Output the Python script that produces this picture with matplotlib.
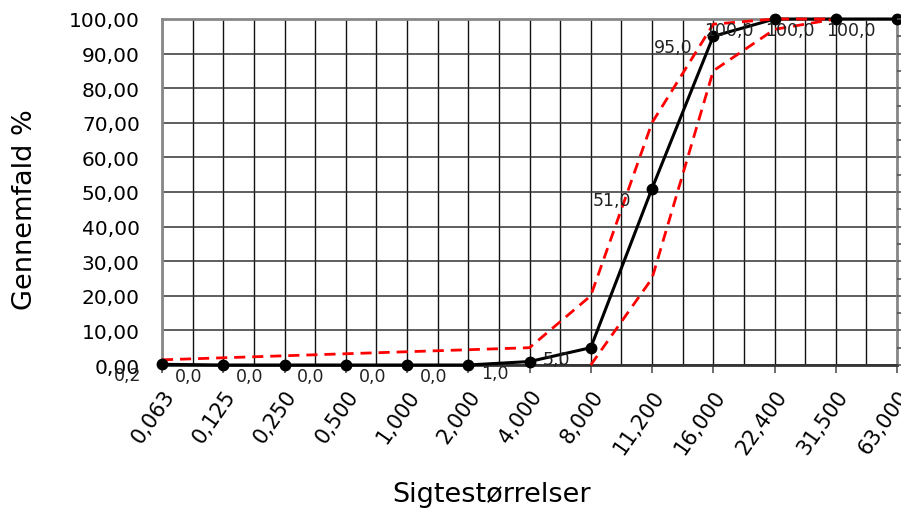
import matplotlib
matplotlib.use("Agg")
import matplotlib.pyplot as plt
import numpy as np

# ---- data ----
categories = ["0,063", "0,125", "0,250", "0,500", "1,000", "2,000", "4,000",
              "8,000", "11,200", "16,000", "22,400", "31,500", "63,000"]
passing = [0.2, 0.0, 0.0, 0.0, 0.0, 0.0, 1.0, 5.0, 51.0, 95.0, 100.0, 100.0, 100.0]
upper_limit = [1.5, None, None, None, None, None, 5.0, 20.0, 70.0, 98.5, 100.0, 100.0, None]
lower_limit = [None, None, None, None, None, None, None, 0.0, 25.0, 85.0, 97.0, 100.0, None]
y_ticks = [0, 10, 20, 30, 40, 50, 60, 70, 80, 90, 100]

plt.rcParams['font.family'] = ['DejaVu Sans']

fig = plt.figure(figsize=(9.01, 5.10), dpi=100)
ax = fig.add_axes([162/901, 1-366/510, (897-162)/901, (366-20)/510])

x = np.arange(len(categories))

# grid
for xv in np.arange(0, len(categories) - 1 + 0.01, 0.5):
    ax.axvline(xv, color='#111111', lw=1.0, zorder=1)
for yv in y_ticks:
    ax.axhline(yv, color='#333333', lw=1.1, zorder=1)

def valid(series):
    xs = [i for i, v in enumerate(series) if v is not None]
    ys = [v for v in series if v is not None]
    return xs, ys

ux, uy = valid(upper_limit)
lx, ly = valid(lower_limit)

ax.plot(x, passing, color='black', lw=2.2, zorder=3, clip_on=False)
ax.plot(ux, uy, color='#ff0000', lw=2.0, ls=(0, (4, 2.5)), zorder=4, clip_on=False)
ax.plot(lx, ly, color='#ff0000', lw=2.0, ls=(0, (4, 2.5)), zorder=4, clip_on=False)
ax.plot(x, passing, ls='none', marker='o', ms=7.5, color='black', zorder=5, clip_on=False)

for xi, v in zip(x, passing):
    ax.annotate(f"{v:.1f}".replace('.', ','), (xi, v), xytext=(-21, -11),
                textcoords='offset pixels', ha='right', va='center',
                fontsize=12.5, color='#222222', zorder=6, annotation_clip=False)

ax.set_xlim(0, len(categories) - 1)
ax.set_ylim(0, 100)
ax.set_xticks(x)
ax.set_xticklabels(categories, rotation=55, ha='right', va='top', rotation_mode='anchor', fontsize=15)
ax.set_yticks(y_ticks)
ax.set_yticklabels([f"{v:.2f}".replace('.', ',') for v in y_ticks], fontsize=14.5)
ax.tick_params(axis='y', length=0, pad=16)
ax.tick_params(axis='x', length=6, width=1.2, color='#555555', pad=9)

for side in ['left', 'top', 'right']:
    ax.spines[side].set_color('#888888')
    ax.spines[side].set_linewidth(2)
ax.spines['bottom'].set_color('#333333')
ax.spines['bottom'].set_linewidth(2)

# secondary right axis with small ticks
ax2 = ax.twinx()
ax2.set_ylim(0, 100)
ax2.set_yticks(np.arange(0, 101, 5))
ax2.set_yticklabels([])
ax2.tick_params(axis='y', length=4, width=1.2, color='#555555')
for s in ax2.spines.values():
    s.set_visible(False)

fig.text(25/901, 1-210/510, "Gennemfald %", rotation=90, ha='center', va='center', fontsize=19.5)
fig.text(492/901, 1-495/510, "Sigtestørrelser", ha='center', va='center', fontsize=19.5)

fig.savefig("out.png", dpi=100)
